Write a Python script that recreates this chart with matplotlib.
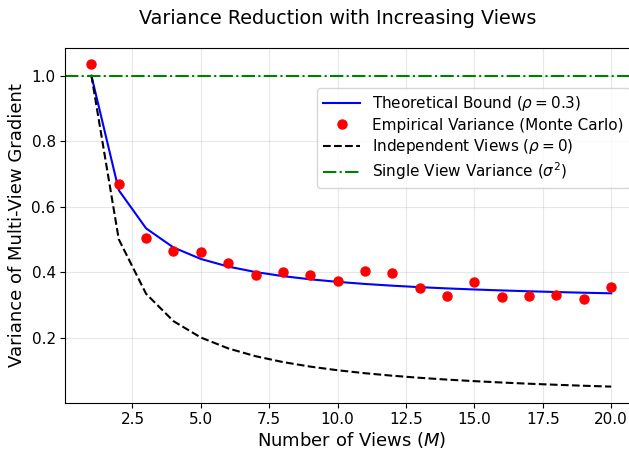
import numpy as np
import matplotlib.pyplot as plt

views = np.arange(1, 21)
theoretical = [1.0, 0.65, 0.5333, 0.475, 0.44, 0.4167, 0.4, 0.3875, 0.3778, 0.37,
               0.3636, 0.3583, 0.3538, 0.35, 0.3467, 0.3438, 0.3412, 0.3389, 0.3368, 0.335]
empirical = [1.036, 0.669, 0.505, 0.463, 0.460, 0.428, 0.390, 0.399, 0.391, 0.372,
             0.403, 0.397, 0.351, 0.327, 0.369, 0.323, 0.327, 0.330, 0.317, 0.354]
independent = [1.0, 0.5, 0.3333, 0.25, 0.2, 0.1667, 0.1429, 0.125, 0.1111, 0.1,
               0.0909, 0.0833, 0.0769, 0.0714, 0.0667, 0.0625, 0.0588, 0.0556, 0.0526, 0.05]
single_view = 1.0

fig = plt.figure(figsize=(6.29, 4.5), dpi=100)
# axes runs slightly past the right edge of the picture, like the cropped original
ax = fig.add_axes([0.104, 0.105, 0.909, 0.789])

ax.plot(views, theoretical, 'b-', lw=1.5, label=r'Theoretical Bound ($\rho=0.3$)')
ax.plot(views, empirical, 'ro', ms=6.5, label='Empirical Variance (Monte Carlo)')
ax.plot(views, independent, 'k--', lw=1.5, label=r'Independent Views ($\rho=0$)')
ax.axhline(single_view, color='g', ls='-.', lw=1.5, label=r'Single View Variance ($\sigma^2$)')

fig.text(338 / 629, 1 - 23.5 / 450, 'Variance Reduction with Increasing Views',
         fontsize=13.8, ha='center', va='baseline')
ax.set_xlabel('Number of Views ($M$)', fontsize=13, labelpad=2)
ax.set_ylabel('Variance of Multi-View Gradient', fontsize=13)
ax.tick_params(labelsize=11)
ax.grid(True, alpha=0.3)
ax.legend(fontsize=11, loc='upper right', bbox_to_anchor=(0.987, 0.887), borderaxespad=0,
          labelspacing=0.3, handlelength=2.4)

plt.savefig('out.png', dpi=100)
